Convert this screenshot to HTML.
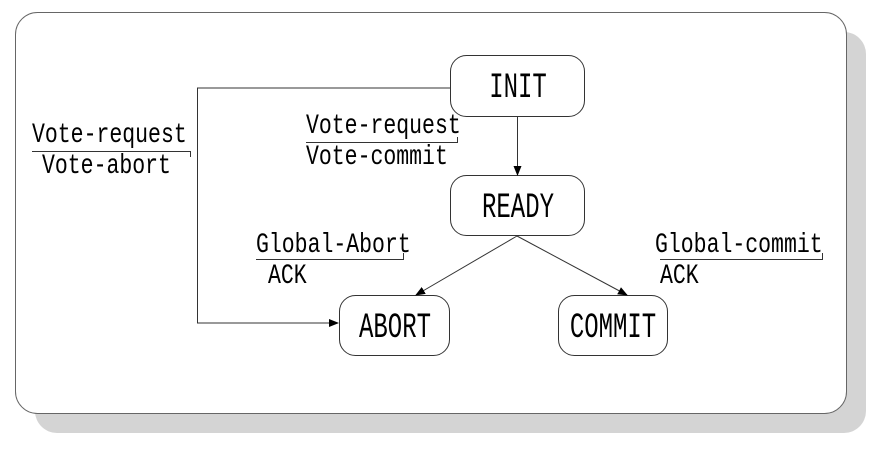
<!DOCTYPE html>
<html><head><style>
body{margin:0;width:887px;height:449px;background:#fff;overflow:hidden}
svg text{font-family:"Liberation Mono",monospace;font-size:21.5px;fill:#000}
.n{font-size:24px;text-anchor:middle}
</style></head><body>
<svg width="887" height="449" viewBox="0 0 887 449">
<defs><marker id="a" markerWidth="10" markerHeight="10" refX="9" refY="5" orient="auto" markerUnits="userSpaceOnUse"><path d="M0,1 L10,5 L0,9 z" fill="#000"/></marker></defs>
<rect x="35" y="32" width="831" height="401" rx="22" fill="#d4d4d4"/>
<rect x="15.5" y="12.5" width="831" height="401" rx="22" fill="#fff" stroke="#666"/>
<g fill="#fff" stroke="#333">
<rect x="450.5" y="55.5" width="134" height="61" rx="16"/>
<rect x="450.5" y="175.5" width="134" height="60" rx="16"/>
<rect x="339.5" y="295.5" width="110" height="60" rx="16"/>
<rect x="558.5" y="295.5" width="109" height="60" rx="16"/>
</g>
<g stroke="#333" fill="none" stroke-width="1">
<polyline points="450,88 197.5,88 197.5,323 338,323" marker-end="url(#a)"/>
<line x1="517.5" y1="116" x2="517.5" y2="175" marker-end="url(#a)"/>
<line x1="517" y1="236" x2="416" y2="295" marker-end="url(#a)"/>
<line x1="517" y1="236" x2="627" y2="295" marker-end="url(#a)"/>
<polyline points="32,151.5 190.5,151.5 190.5,157"/>
<polyline points="306,142.5 457.5,142.5 457.5,137"/>
<polyline points="256,259.5 403.5,259.5 403.5,253"/>
<polyline points="660,259.5 822.5,259.5 822.5,253"/>
</g>
<text transform="translate(32,142) scale(1,1.3)">Vote-request</text>
<text transform="translate(42,173) scale(1,1.3)">Vote-abort</text>
<text transform="translate(306,133) scale(1,1.3)">Vote-request</text>
<text transform="translate(306,164) scale(1,1.3)">Vote-commit</text>
<text transform="translate(256,252) scale(1,1.3)">Global-Abort</text>
<text transform="translate(268,283) scale(1,1.3)">ACK</text>
<text transform="translate(655,252) scale(1,1.3)">Global-commit</text>
<text transform="translate(660,283) scale(1,1.3)">ACK</text>
<text class="n" transform="translate(518,97) scale(1,1.45)">INIT</text>
<text class="n" transform="translate(518,217) scale(1,1.45)">READY</text>
<text class="n" transform="translate(395,337) scale(1,1.45)">ABORT</text>
<text class="n" transform="translate(613,337) scale(1,1.45)">COMMIT</text>
</svg>
</body></html>
